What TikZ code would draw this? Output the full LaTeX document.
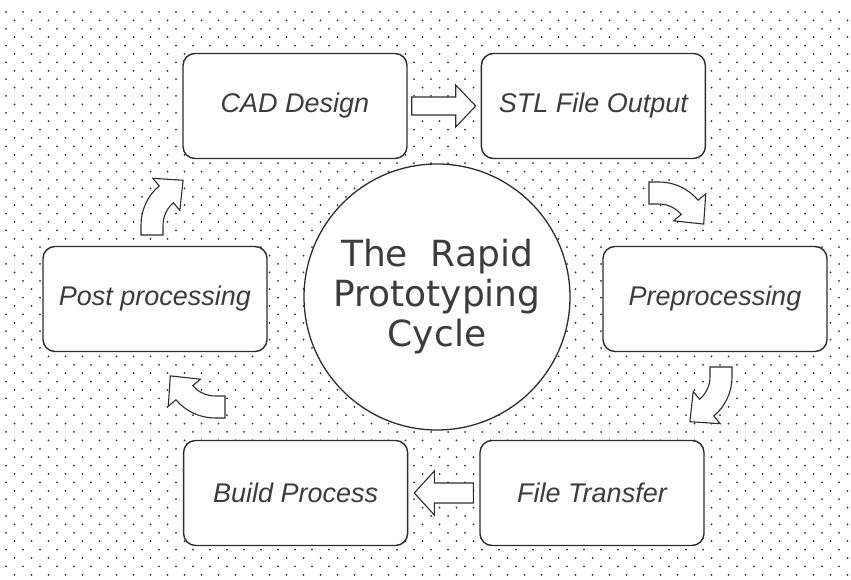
\documentclass[tikz,border=0pt]{standalone}
\usepackage{fontspec}
\setmainfont{Liberation Sans}
\newfontfamily\cyclefont{DejaVu Sans}
\usetikzlibrary{positioning,calc}
\definecolor{ink}{RGB}{45,45,45}
\definecolor{inktext}{RGB}{60,60,60}
\definecolor{dotgray}{RGB}{45,45,45}

\tikzset{
  stagebox/.style={draw=ink, line width=1.4pt, rounded corners=12pt, fill=white,
        minimum width=224pt, minimum height=105pt, text=inktext,
        font=\fontsize{27}{30}\selectfont\itshape},
  flow/.style={draw=ink, line width=1.1pt, fill=white, line join=miter},
  bendarrow/.pic={
    \path[flow] (-10,51) -- (0,51) arc[start angle=90, end angle=40, radius=51]
      -- (46.7,39.2) -- (44.7,8.9) -- (14.6,12.2) -- (22.2,18.6)
      arc[start angle=40, end angle=90, radius=29] -- (-10,29) -- cycle;
  }
}

\begin{document}
\begin{tikzpicture}[x=1pt, y=1pt]
  \fill[white] (0,0) rectangle (851,580);
  \useasboundingbox (0,0) rectangle (851,580);

  \foreach \row in {0,...,67} {
    \pgfmathsetmacro\ypos{568-8.4*\row}
    \pgfmathsetmacro\xoff{mod(\row,2)*8.5}
    \fill[dotgray] \foreach \col in {0,...,49} {(6+\xoff+17*\col,\ypos) circle[radius=1]};
  }

  \node[stagebox] (cad) at (295,474) {CAD Design};
  \node[stagebox, right=73pt of cad] (stl) {STL File Output};
  \node[stagebox] (pre) at (715,281) {Preprocessing};
  \node[stagebox] (transfer) at (592,87) {File Transfer};
  \node[stagebox, left=71pt of transfer] (build) {Build Process};
  \node[stagebox] (post) at (155,281) {Post processing};

  \node[circle, draw=ink, line width=1.3pt, fill=white, minimum size=266pt,
        text=inktext, align=center, font=\cyclefont\fontsize{36}{40}\selectfont]
        (cycle) at (437,283) {The~~Rapid\\Prototyping\\Cycle};

  \path[flow] ($(cad.east)+(4,9)$) -- ($(stl.west)+(-25,9)$) -- ($(stl.west)+(-25,21)$)
    -- ($(stl.west)+(-5,0)$) -- ($(stl.west)+(-25,-21)$) -- ($(stl.west)+(-25,-9)$)
    -- ($(cad.east)+(4,-9)$) -- cycle;
  \path[flow] ($(transfer.west)+(-6,10)$) -- ($(build.east)+(26,10)$) -- ($(build.east)+(26,22)$)
    -- ($(build.east)+(6,0)$) -- ($(build.east)+(26,-22)$) -- ($(build.east)+(26,-10)$)
    -- ($(transfer.west)+(-6,-10)$) -- cycle;

  \pic (bendone) at (659,347) {bendarrow};
  \pic[rotate=-90] (bendtwo) at (681,203) {bendarrow};
  \pic[rotate=180] (bendthree) at (215,213) {bendarrow};
  \pic[rotate=90] (bendfour) at (192,355) {bendarrow};
\end{tikzpicture}
\end{document}
